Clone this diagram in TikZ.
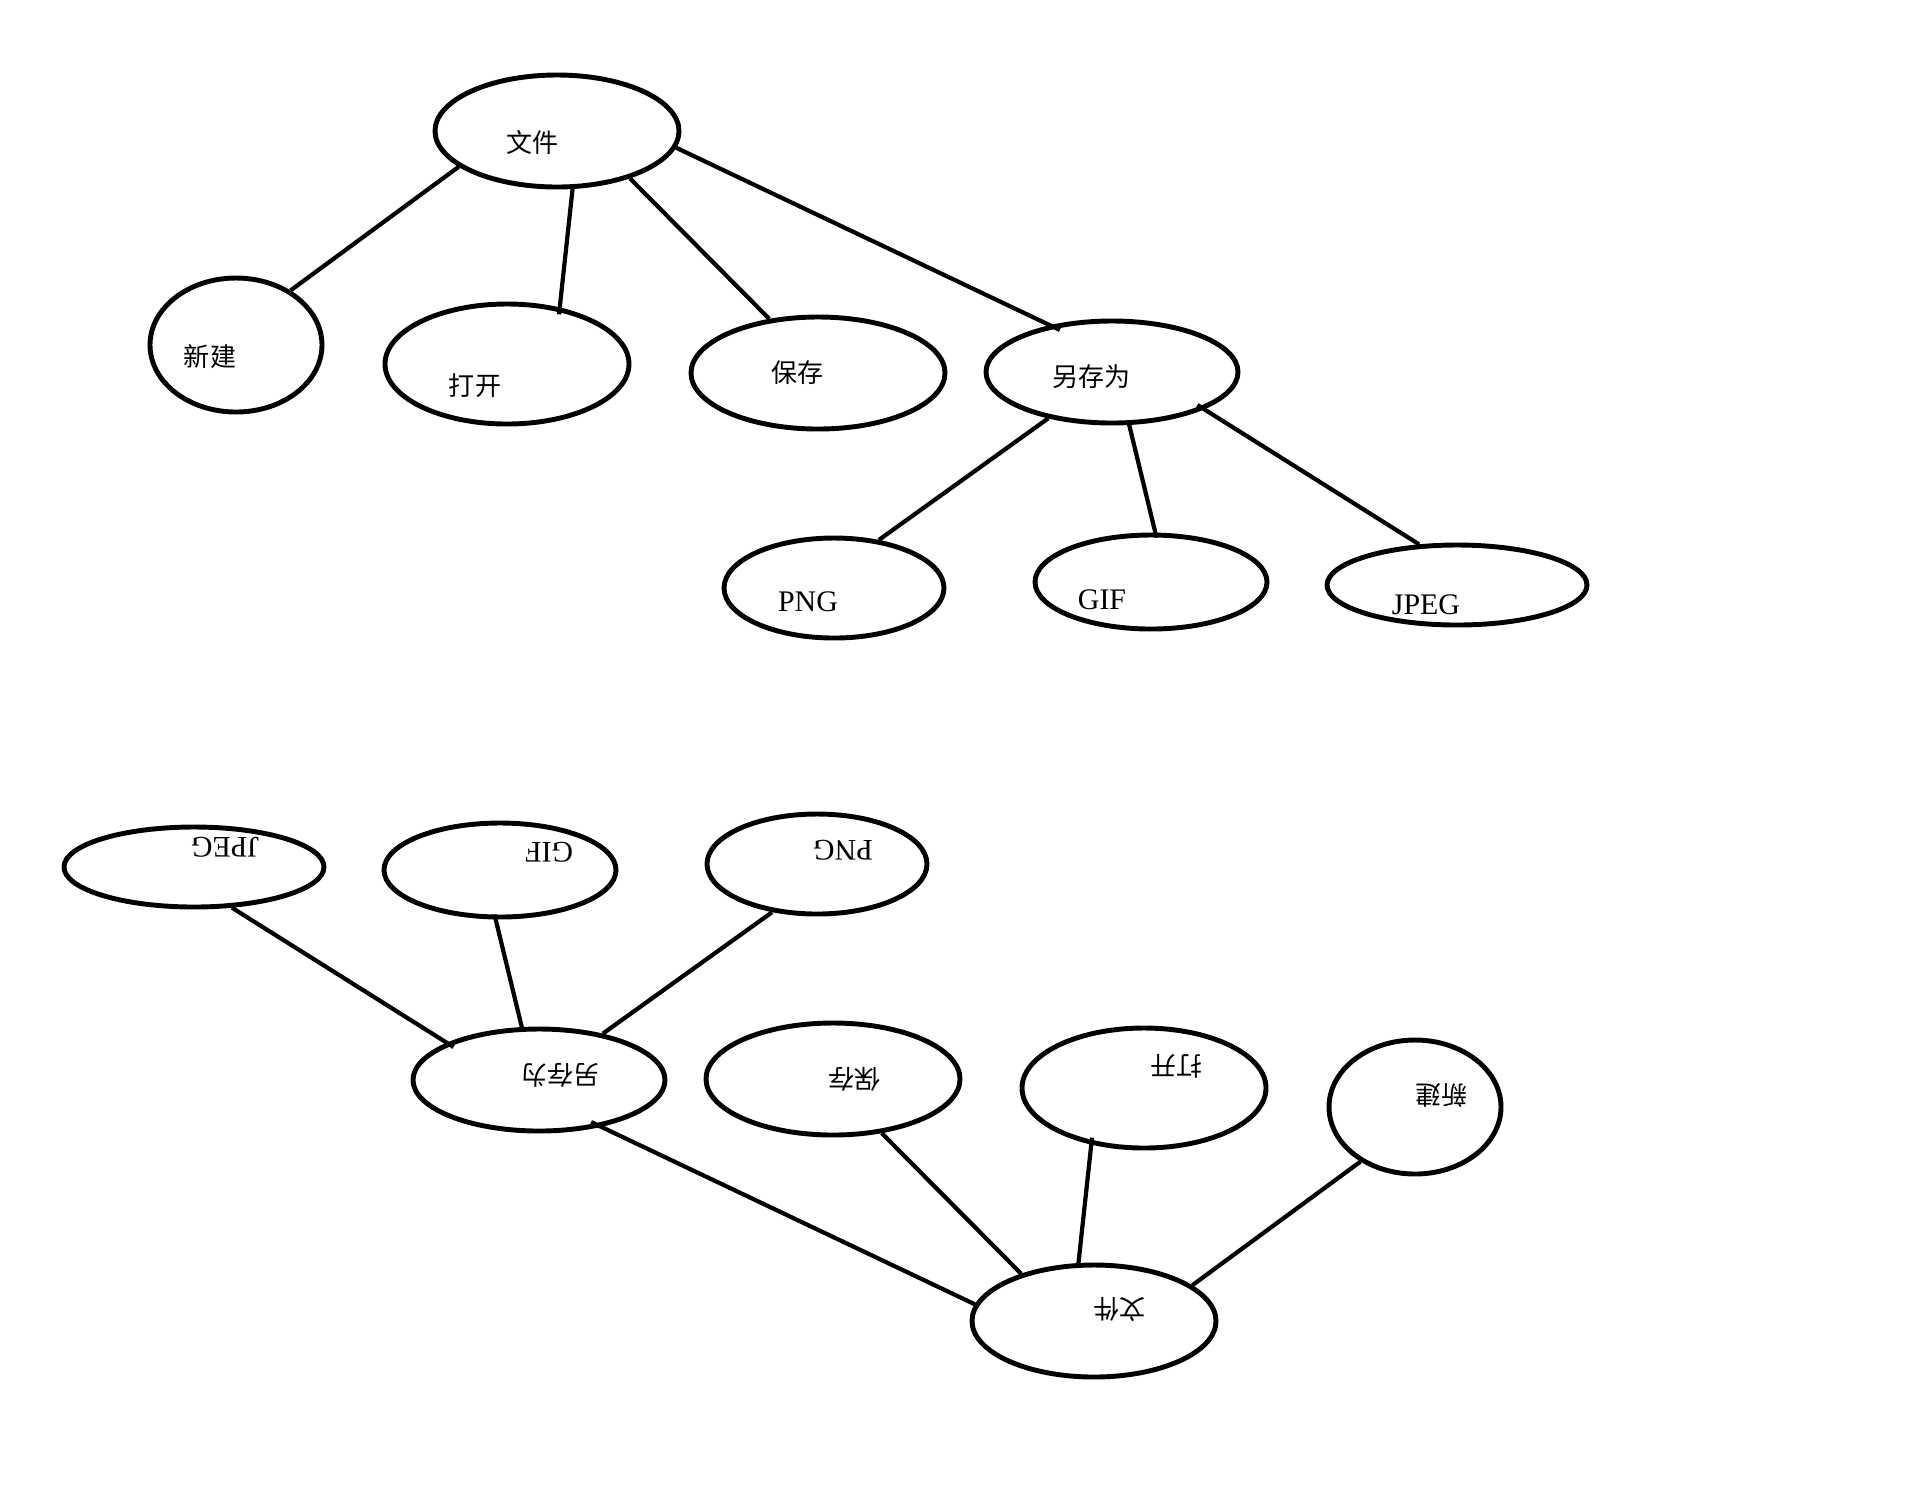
\documentclass[tikz,border=0pt]{standalone}
\usepackage{fontspec}
\setmainfont{Liberation Serif}
\newfontfamily\cjk{Noto Sans CJK SC}
\usetikzlibrary{shapes.geometric}

\begin{document}
\begin{tikzpicture}[
    oval/.style={ellipse, draw, line width=1.4pt, inner sep=0pt},
    link/.style={line width=1.2pt},
    zh/.style={inner sep=0pt, font=\cjk\fontsize{7.4}{9}\selectfont},
    en/.style={inner sep=0pt, font=\fontsize{8.5}{10}\selectfont}
]

\useasboundingbox (0,0) rectangle (19.2,-15);

% ============ Same tree twice: upright (t) and turned over (b) ============
\foreach \p/\r in {t/0, b/180} {
\begin{scope}[rotate around={\r:(8.255,-7.26)}, transform shape]

% Root
\node[oval, minimum width=2.44cm, minimum height=1.12cm] (\p-file) at (5.57,-1.31) {};
\node[zh] (\p-filet) at (5.32,-1.43) {文件};

% First level
\node[oval, minimum width=1.72cm, minimum height=1.34cm] (\p-new) at (2.36,-3.45) {};
\node[zh] (\p-newt) at (2.10,-3.57) {新建};
\node[oval, minimum width=2.44cm, minimum height=1.20cm] (\p-open) at (5.07,-3.64) {};
\node[zh] (\p-opent) at (4.75,-3.86) {打开};
\node[oval, minimum width=2.54cm, minimum height=1.12cm] (\p-save) at (8.18,-3.73) {};
\node[zh] (\p-savet) at (7.97,-3.73) {保存};
\node[oval, minimum width=2.52cm, minimum height=1.02cm] (\p-saveas) at (11.12,-3.72) {};
\node[zh] (\p-saveast) at (10.91,-3.77) {另存为};

% Second level
\node[oval, minimum width=2.20cm, minimum height=1.00cm] (\p-png) at (8.34,-5.88) {};
\node[en] (\p-pngt) at (8.08,-6.02) {PNG};
\node[oval, minimum width=2.32cm, minimum height=0.94cm] (\p-gif) at (11.51,-5.82) {};
\node[en] (\p-gift) at (11.02,-6.00) {GIF};
\node[oval, minimum width=2.60cm, minimum height=0.80cm] (\p-jpeg) at (14.57,-5.85) {};
\node[en] (\p-jpegt) at (14.26,-6.05) {JPEG};

% Edges
\draw[link] (\p-file.200) -- (\p-new.45);
\draw[link, shorten >=-0.07cm] (\p-file.285) -- (\p-open.47);
\draw[link] (\p-file.327) -- (\p-save.132);
\draw[link, shorten >=-0.11cm] (\p-file.352) -- (\p-saveas.143);
\draw[link] (\p-saveas.216) -- (\p-png.47);
\draw[link, shorten <=-0.045cm, shorten >=-0.05cm] (\p-saveas.288) -- (\p-gif.85);
\draw[link, shorten <=-0.08cm] (\p-saveas.338) -- (\p-jpeg.133.5);

\end{scope}
}

\end{tikzpicture}
\end{document}
